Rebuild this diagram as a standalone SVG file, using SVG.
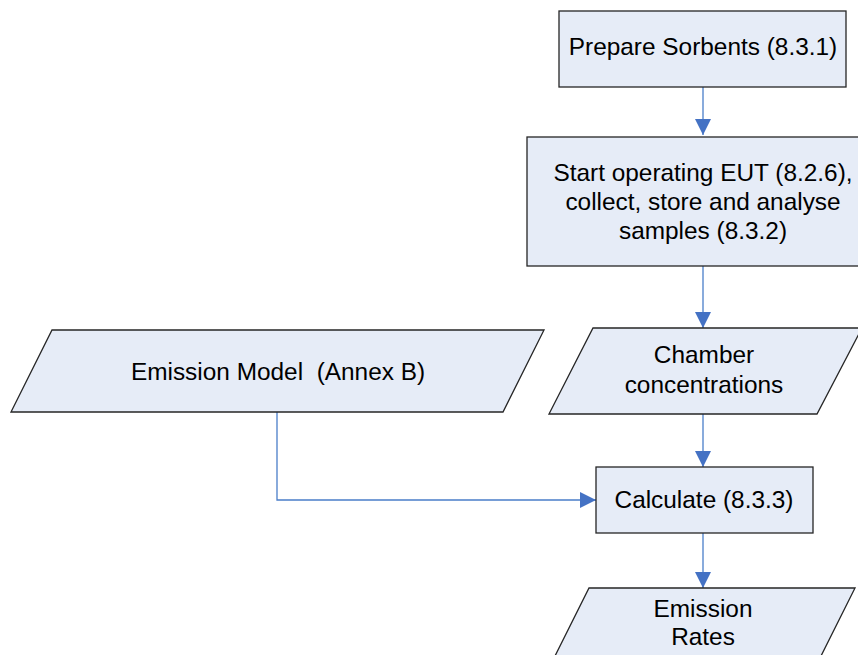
<svg xmlns="http://www.w3.org/2000/svg" width="858" height="655" viewBox="0 0 858 655">
<defs>
<style>
.n{fill:#E6ECF7;stroke:#262626;stroke-width:1.3}
.t{font-family:"Liberation Sans",Arial,sans-serif;font-size:24.4px;fill:#000;text-anchor:middle}
.c{fill:none;stroke:#4A7EC9;stroke-width:1.3}
</style>
<marker id="ah" markerWidth="16" markerHeight="16" viewBox="0 0 16 16" refX="16" refY="8" orient="auto" markerUnits="userSpaceOnUse">
<path d="M0,0 L16,8 L0,16 Z" fill="#4472C4"/>
</marker>
</defs>
<rect width="858" height="655" fill="#fff"/>
<g id="connectors">
<path class="c" d="M703,87 V135" marker-end="url(#ah)"/>
<path class="c" d="M703,266 V328" marker-end="url(#ah)"/>
<path class="c" d="M703,414 V467" marker-end="url(#ah)"/>
<path class="c" d="M277,412 V500 H596" marker-end="url(#ah)"/>
<path class="c" d="M703,533 V588" marker-end="url(#ah)"/>
</g>
<g id="prepare">
<rect class="n" x="559" y="11" width="287" height="76"/>
<text class="t" x="703" y="55">Prepare Sorbents (8.3.1)</text>
</g>
<g id="start">
<rect class="n" x="527" y="137" width="360" height="129"/>
<text class="t" x="703" y="181">Start operating EUT (8.2.6),</text>
<text class="t" x="703" y="210">collect, store and analyse</text>
<text class="t" x="703" y="239">samples (8.3.2)</text>
</g>
<g id="model">
<polygon class="n" points="52,330 544,330 503,412 11,412"/>
<text class="t" x="278" y="380" xml:space="preserve">Emission Model  (Annex B)</text>
</g>
<g id="chamber">
<polygon class="n" points="593,328 862,328 817,414 549,414"/>
<text class="t" x="704" y="363">Chamber</text>
<text class="t" x="704" y="393">concentrations</text>
</g>
<g id="calculate">
<rect class="n" x="596" y="467" width="217" height="66"/>
<text class="t" x="704" y="508">Calculate (8.3.3)</text>
</g>
<g id="rates">
<polygon class="n" points="589,588 855,588 811,676 545,676"/>
<text class="t" x="703" y="617">Emission</text>
<text class="t" x="703" y="645">Rates</text>
</g>
</svg>
